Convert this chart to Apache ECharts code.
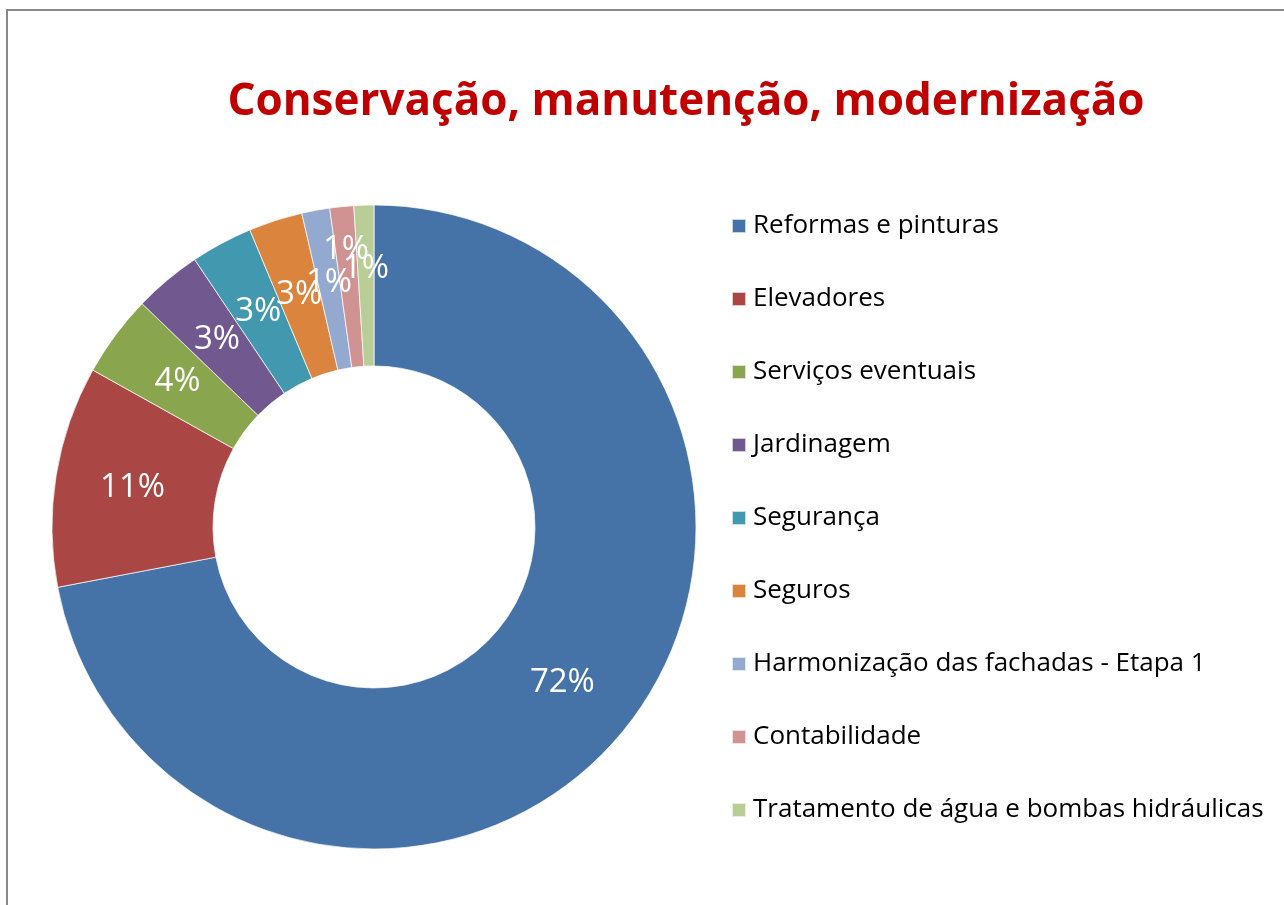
<!DOCTYPE html>
<html>
<head>
<meta charset="utf-8">
<script src="https://cdn.jsdelivr.net/npm/echarts@6/dist/echarts.min.js"></script>
<style>
  html, body { margin: 0; padding: 0; background: #fff; }
  #chart { width: 1284px; height: 905px; }
</style>
</head>
<body>
<div id="chart"></div>
<script>
// categories and shares (in %)
const categories = [
  'Reformas e pinturas',
  'Elevadores',
  'Serviços eventuais',
  'Jardinagem',
  'Segurança',
  'Seguros',
  'Harmonização das fachadas - Etapa 1',
  'Contabilidade',
  'Tratamento de água e bombas hidráulicas'
];
const shares = [72.0, 11.1, 4.1, 3.4, 3.1, 2.7, 1.4, 1.2, 1.0];
const colors = ['#4572A7', '#AA4643', '#89A54E', '#71588F', '#4198AF', '#DB843D', '#93A9CF', '#D19392', '#B9CD96'];

const FONT = '"Open Sans", sans-serif';
const CX = 374, CY = 527;
// push the thin slices' labels outward a bit so they don't pile up
const labelPush = { 6: 4, 7: 34, 8: 14 };

const chart = echarts.init(document.getElementById('chart'));

chart.setOption({
  animation: false,
  color: colors,
  title: {
    text: 'Conservação, manutenção, modernização',
    left: 681,
    top: 75,
    textAlign: 'center',
    textStyle: { color: '#C00000', fontFamily: FONT, fontWeight: 'bold', fontSize: 44 }
  },
  legend: {
    orient: 'vertical',
    left: 726,
    top: 208,
    itemWidth: 14,
    itemHeight: 14,
    itemGap: 47,
    icon: 'rect',
    textStyle: { color: '#000', fontFamily: FONT, fontSize: 26, padding: [0, 0, 0, 2] },
    data: categories
  },
  graphic: [{
    type: 'rect',
    shape: { x: 7, y: 10, width: 1400, height: 1000 },
    style: { fill: 'none', stroke: '#888', lineWidth: 2 },
    silent: true
  }],
  series: [{
    type: 'pie',
    center: [CX, CY],
    radius: [161, 322],
    startAngle: 90,
    clockwise: true,
    avoidLabelOverlap: false,
    itemStyle: { borderColor: 'rgba(255,255,255,0.7)', borderWidth: 1 },
    label: {
      show: true,
      position: 'inside',
      color: '#fff',
      fontFamily: FONT,
      fontSize: 33,
      formatter: p => Math.round(p.value) + '%'
    },
    labelLine: { show: false },
    labelLayout: params => {
      const push = labelPush[params.dataIndex];
      if (!push) return {};
      const r = params.labelRect;
      const lx = r.x + r.width / 2, ly = r.y + r.height / 2;
      const dx = lx - CX, dy = ly - CY;
      const d = Math.sqrt(dx * dx + dy * dy);
      return { x: lx + dx / d * push, y: ly + dy / d * push, align: 'center', verticalAlign: 'middle' };
    },
    emphasis: { disabled: true },
    data: categories.map((name, i) => ({ name: name, value: shares[i] }))
  }]
});
</script>
</body>
</html>
